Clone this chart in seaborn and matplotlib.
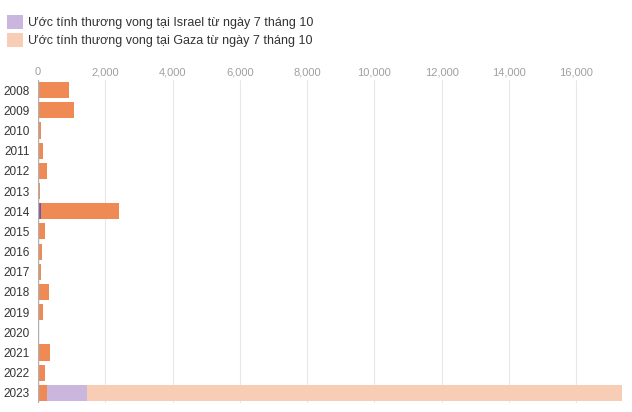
import matplotlib
matplotlib.use("Agg")
import matplotlib.pyplot as plt
from matplotlib.patches import Patch
import seaborn as sns
import pandas as pd
import numpy as np

years = [str(y) for y in range(2008, 2024)]
israel_deaths = [35, 9, 9, 11, 7, 6, 88, 26, 13, 15, 14, 10, 3, 14, 29, 30]
palestine_deaths = [899, 1066, 95, 124, 260, 39, 2329, 174, 109, 77, 300, 138, 30, 349, 191, 234]
israel_est = [0] * 15 + [1200]
gaza_est = [0] * 15 + [15900]
legend_labels = ["Ước tính thương vong tại Israel từ ngày 7 tháng 10",
                 "Ước tính thương vong tại Gaza từ ngày 7 tháng 10"]
xticks = [0, 2000, 4000, 6000, 8000, 10000, 12000, 14000, 16000]

c_isr = "#7a559e"
c_pal = "#f08a55"
c_isr_est = "#cbb6de"
c_gaza_est = "#f8cdb6"

sns.set_theme(style="white")
plt.rcParams["font.family"] = ["Liberation Sans", "DejaVu Sans"]

df = pd.DataFrame({"year": years, "isr": israel_deaths, "pal": palestine_deaths,
                   "isr_est": israel_est, "gaza_est": gaza_est})
df["c1"] = df["isr"]
df["c2"] = df["c1"] + df["pal"]
df["c3"] = df["c2"] + df["isr_est"]
df["c4"] = df["c3"] + df["gaza_est"]

fig = plt.figure(figsize=(6.32, 4.12), dpi=100)
ax = fig.add_axes([38 / 632, 1 - 403 / 412, (622 - 38) / 632, (403 - 80) / 412])

for col, color in [("c4", c_gaza_est), ("c3", c_isr_est), ("c2", c_pal), ("c1", c_isr)]:
    sns.barplot(data=df, x=col, y="year", color=color, orient="h", width=0.8,
                saturation=1, ax=ax, linewidth=0, zorder=3)

ax.set_xlim(0, df["c4"].max())
ax.set_xticks(xticks)
ax.set_xticklabels([f"{v:,}" for v in xticks])
ax.xaxis.tick_top()
ax.tick_params(axis="x", length=0, pad=2, labelsize=8, labelcolor="#a0a0a0")
ax.tick_params(axis="y", length=0, pad=6, labelsize=8.5, labelcolor="#333333")
ax.set_xlabel("")
ax.set_ylabel("")
ax.grid(axis="x", color="#e8e8e8", linewidth=0.8, zorder=0)
for s in ax.spines.values():
    s.set_visible(False)
ax.axvline(0, color="#b0b0b0", linewidth=1, zorder=4)

handles = [Patch(facecolor=c_isr_est, edgecolor="none"),
           Patch(facecolor=c_gaza_est, edgecolor="none")]
fig.legend(handles, legend_labels, loc="upper left", bbox_to_anchor=(7 / 632, 1 - 15 / 412),
           frameon=False, fontsize=9, handlelength=1.3, handleheight=1.3,
           handletextpad=0.35, labelspacing=0.35, labelcolor="#333333",
           borderaxespad=0, borderpad=0)

fig.savefig("out.png", dpi=100)
